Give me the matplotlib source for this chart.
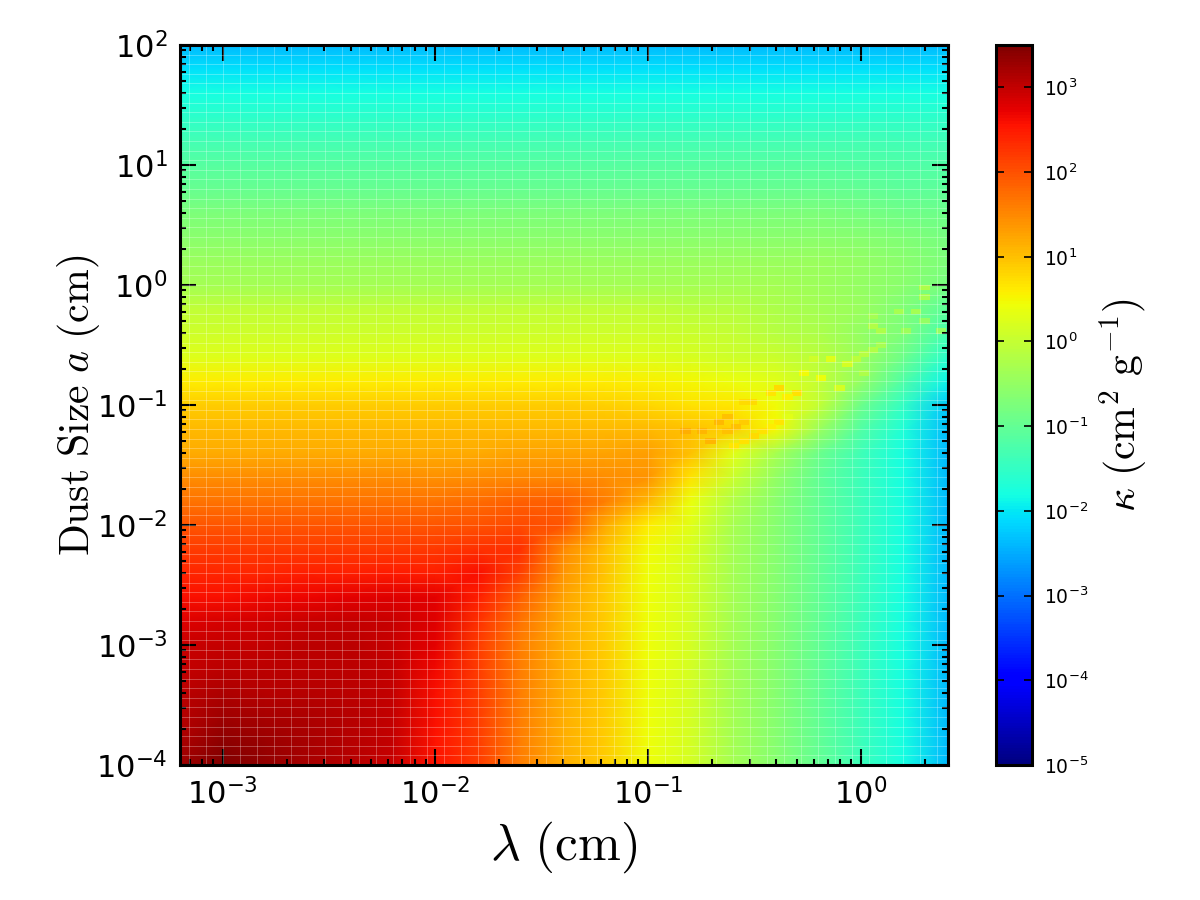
import matplotlib
matplotlib.use("Agg")
import matplotlib.pyplot as plt
import numpy as np
from matplotlib.colors import LogNorm
from matplotlib.ticker import LogLocator, NullLocator

plt.rcParams["mathtext.fontset"] = "cm"
plt.rcParams["axes.linewidth"] = 2.2
plt.rcParams["axes.unicode_minus"] = False

# log10(wavelength / cm) of each table column
log_lam = [-3.2, -3.0, -2.8, -2.6, -2.4, -2.2, -2.0, -1.8, -1.6, -1.4,
           -1.2, -1.0, -0.8, -0.6, -0.4, -0.2, 0.0, 0.2, 0.41]
# log10(dust size / cm) of each table row
log_size = [-4.0, -3.8, -3.6, -3.4, -3.2, -3.0, -2.8, -2.6, -2.4, -2.2, -2.0,
            -1.8, -1.6, -1.4, -1.2, -1.0, -0.8, -0.6, -0.4, -0.2, 0.0,
            0.2, 0.4, 0.6, 0.8, 1.0, 1.2, 1.4, 1.6, 1.8, 2.0]

# log10(kappa) along each dust size, small grains first
a_m40 = [3.25, 3.50, 3.35, 3.20, 3.10, 2.95, 2.55, 2.20, 1.60, 1.15, 0.90, 0.42, 0.15, -0.35, -0.65, -1.00, -1.40, -1.80, -2.40]
a_m38 = [3.15, 3.40, 3.30, 3.20, 3.10, 3.00, 2.55, 2.20, 1.60, 1.15, 0.90, 0.42, 0.15, -0.35, -0.65, -1.00, -1.40, -1.80, -2.40]
a_m36 = [3.10, 3.25, 3.20, 3.15, 3.10, 3.00, 2.60, 2.20, 1.60, 1.15, 0.90, 0.42, 0.15, -0.35, -0.65, -1.00, -1.40, -1.80, -2.40]
a_m34 = [3.05, 3.15, 3.10, 3.10, 3.05, 3.00, 2.60, 2.20, 1.60, 1.15, 0.90, 0.42, 0.15, -0.35, -0.65, -1.00, -1.40, -1.80, -2.40]
a_m32 = [3.00, 3.05, 3.05, 3.05, 3.05, 3.00, 2.65, 2.20, 1.60, 1.15, 0.90, 0.42, 0.15, -0.35, -0.65, -1.00, -1.40, -1.80, -2.40]
a_m30 = [2.95, 3.00, 3.00, 3.05, 3.05, 2.95, 2.75, 2.20, 1.60, 1.15, 0.90, 0.42, 0.15, -0.35, -0.65, -1.00, -1.40, -1.80, -2.40]
a_m28 = [2.80, 2.85, 2.90, 2.95, 3.00, 2.95, 2.80, 2.30, 1.70, 1.20, 0.90, 0.42, 0.15, -0.35, -0.65, -1.00, -1.40, -1.80, -2.40]
a_m26 = [2.60, 2.60, 2.65, 2.70, 2.75, 2.80, 2.74, 2.45, 1.85, 1.25, 0.90, 0.42, 0.15, -0.35, -0.65, -1.00, -1.40, -1.80, -2.40]
a_m24 = [2.40, 2.40, 2.40, 2.45, 2.45, 2.50, 2.46, 2.60, 2.15, 1.40, 0.95, 0.42, 0.15, -0.35, -0.65, -1.00, -1.40, -1.80, -2.40]
a_m22 = [2.20, 2.20, 2.20, 2.20, 2.20, 2.20, 2.23, 2.30, 2.30, 1.50, 1.00, 0.45, 0.20, -0.35, -0.65, -1.00, -1.40, -1.80, -2.40]
a_m20 = [1.95, 1.95, 1.95, 1.95, 1.95, 1.95, 1.97, 2.00, 2.05, 1.95, 1.20, 0.60, 0.30, -0.30, -0.65, -1.00, -1.40, -1.80, -2.40]
a_m18 = [1.70, 1.70, 1.70, 1.70, 1.70, 1.70, 1.70, 1.75, 1.84, 1.84, 1.60, 1.10, 0.40, -0.20, -0.60, -1.00, -1.40, -1.80, -2.40]
a_m16 = [1.45, 1.45, 1.45, 1.45, 1.45, 1.45, 1.43, 1.45, 1.50, 1.50, 1.47, 1.40, 0.70, 0.05, -0.50, -1.00, -1.40, -1.80, -2.40]
a_m14 = [1.20, 1.20, 1.20, 1.20, 1.20, 1.20, 1.20, 1.20, 1.25, 1.25, 1.25, 1.30, 1.00, 0.30, -0.30, -0.90, -1.35, -1.80, -2.40]
a_m12 = [1.05, 1.05, 1.05, 1.05, 1.05, 1.05, 1.05, 1.05, 1.05, 1.05, 1.05, 1.05, 1.00, 0.85, 0.50, -0.40, -1.15, -1.70, -2.35]
a_m10 = [0.90, 0.90, 0.90, 0.90, 0.90, 0.90, 0.90, 0.90, 0.90, 0.90, 0.85, 0.80, 0.70, 0.65, 0.45, 0.00, -0.90, -1.50, -2.25]
a_m08 = [0.60, 0.60, 0.60, 0.60, 0.60, 0.60, 0.60, 0.60, 0.60, 0.60, 0.60, 0.55, 0.50, 0.40, 0.30, 0.00, -0.50, -1.20, -1.90]
a_m06 = [0.25, 0.25, 0.25, 0.25, 0.25, 0.25, 0.25, 0.25, 0.25, 0.25, 0.25, 0.25, 0.20, 0.10, 0.05, -0.10, -0.40, -0.90, -1.60]
a_m04 = [0.10, 0.10, 0.10, 0.10, 0.10, 0.10, 0.10, 0.10, 0.10, 0.10, 0.10, 0.10, 0.05, 0.00, -0.15, -0.25, -0.50, -0.75, -1.30]
a_m02 = [-0.05, -0.05, -0.05, -0.05, -0.05, -0.05, -0.05, -0.05, -0.05, -0.05, -0.05, -0.05, -0.10, -0.15, -0.25, -0.35, -0.45, -0.70, -1.10]
a_p00 = [-0.35, -0.35, -0.35, -0.35, -0.35, -0.35, -0.35, -0.35, -0.35, -0.35, -0.35, -0.35, -0.35, -0.35, -0.35, -0.40, -0.50, -0.60, -0.80]
a_p02 = [-0.45, -0.45, -0.45, -0.45, -0.45, -0.45, -0.45, -0.45, -0.45, -0.45, -0.45, -0.45, -0.45, -0.45, -0.45, -0.45, -0.50, -0.60, -0.75]
a_p04 = [-0.60, -0.60, -0.60, -0.60, -0.60, -0.60, -0.60, -0.60, -0.60, -0.60, -0.60, -0.60, -0.60, -0.60, -0.60, -0.60, -0.65, -0.70, -0.80]
a_p06 = [-0.75, -0.75, -0.75, -0.75, -0.75, -0.75, -0.75, -0.75, -0.75, -0.75, -0.75, -0.75, -0.75, -0.75, -0.75, -0.75, -0.80, -0.85, -0.90]
a_p08 = [-0.95, -0.95, -0.95, -0.95, -0.95, -0.95, -0.95, -0.95, -0.95, -0.95, -0.95, -0.95, -0.95, -0.95, -0.95, -0.95, -1.00, -1.05, -1.05]
a_p10 = [-1.12, -1.12, -1.12, -1.12, -1.12, -1.12, -1.12, -1.12, -1.12, -1.12, -1.12, -1.12, -1.12, -1.12, -1.12, -1.12, -1.15, -1.20, -1.20]
a_p12 = [-1.32, -1.32, -1.32, -1.32, -1.32, -1.32, -1.32, -1.32, -1.32, -1.32, -1.32, -1.32, -1.32, -1.32, -1.32, -1.32, -1.32, -1.35, -1.35]
a_p14 = [-1.55, -1.55, -1.55, -1.55, -1.55, -1.55, -1.55, -1.55, -1.55, -1.55, -1.55, -1.55, -1.55, -1.55, -1.55, -1.55, -1.55, -1.55, -1.55]
a_p16 = [-1.78, -1.78, -1.78, -1.78, -1.78, -1.78, -1.78, -1.78, -1.78, -1.78, -1.78, -1.78, -1.78, -1.78, -1.78, -1.78, -1.78, -1.78, -1.78]
a_p18 = [-2.05, -2.05, -2.05, -2.05, -2.05, -2.05, -2.05, -2.05, -2.05, -2.05, -2.05, -2.05, -2.05, -2.05, -2.05, -2.05, -2.05, -2.05, -2.05]
a_p20 = [-2.40, -2.40, -2.40, -2.40, -2.40, -2.40, -2.40, -2.40, -2.40, -2.40, -2.40, -2.40, -2.40, -2.40, -2.40, -2.40, -2.40, -2.40, -2.40]

# resonance cells that stand out from their neighbours near a ~ lambda / 2 pi
fleck_log_lam = [0.299, 0.299, 0.260, 0.180, 0.056, 0.056, 0.095, 0.213, 0.378, 0.299,
                 0.095, 0.056, -0.023, 0.016, -0.141, -0.219, -0.062, -0.266, -0.188, 0.016,
                 -0.100, -0.384, -0.301, -0.423, -0.345, -0.510, -0.549, -0.345, -0.384, -0.549,
                 -0.423, -0.462, -0.502, -0.588, -0.627, -0.667, -0.627, -0.706, -0.745, -0.824,
                 -0.549, -0.596]
fleck_log_size = [-0.020, -0.098, -0.220, -0.220, -0.259, -0.339, -0.381, -0.381, -0.381, -0.300,
                  -0.500, -0.542, -0.617, -0.578, -0.617, -0.617, -0.659, -0.736, -0.778, -0.736,
                  -0.856, -0.856, -0.898, -0.898, -0.936, -0.978, -0.978, -1.098, -1.139, -1.139,
                  -1.181, -1.217, -1.256, -1.181, -1.098, -1.139, -1.217, -1.300, -1.217, -1.217,
                  -1.300, -1.342]
fleck_log_kappa = [-0.25, -0.30, -0.35, -0.30, -0.35, -0.20, -0.25, -0.40, -0.50, -0.50,
                   -0.30, -0.20, -0.10, -0.15, 0.25, 0.10, 0.15, 0.45, 0.40, -0.25,
                   0.15, 0.75, 0.70, 0.65, 0.55, 0.75, 0.75, 0.30, 0.65, 0.90,
                   0.60, 0.70, 0.75, 1.00, 1.00, 1.05, 1.00, 1.10, 1.10, 1.15,
                   0.70, 0.65]

log_kappa = np.array([
    a_m40, a_m38, a_m36, a_m34, a_m32, a_m30, a_m28, a_m26, a_m24, a_m22, a_m20,
    a_m18, a_m16, a_m14, a_m12, a_m10, a_m08, a_m06, a_m04, a_m02, a_p00,
    a_p02, a_p04, a_p06, a_p08, a_p10, a_p12, a_p14, a_p16, a_p18, a_p20,
])

lam = 10.0 ** np.array(log_lam)
size = 10.0 ** np.array(log_size)

fig = plt.figure(figsize=(12, 9), dpi=100)
ax = fig.add_axes([0.15, 0.15, 0.64, 0.80])
cax = fig.add_axes([0.83, 0.15, 0.03, 0.80])

norm = LogNorm(vmin=1e-5, vmax=10 ** 3.5)
mesh = ax.pcolormesh(lam, size, 10.0 ** log_kappa, cmap="jet", norm=norm,
                     shading="gouraud", rasterized=True)
ax.set_xscale("log")
ax.set_yscale("log")
ax.set_xlim(lam[0], lam[-1])
ax.set_ylim(size[0], size[-1])

cell = [(-1, -0.56), (1, -0.56), (1, 0.56), (-1, 0.56)]
ax.scatter(10.0 ** np.array(fleck_log_lam), 10.0 ** np.array(fleck_log_size),
           c=10.0 ** np.array(fleck_log_kappa), cmap="jet", norm=norm,
           marker=cell, s=55, linewidths=0, zorder=1.5)

# thin pale seams between the cells of the underlying opacity grid
for x in 10.0 ** np.arange(-3.16, 0.41, 0.08):
    ax.axvline(x, color="white", lw=0.7, alpha=0.28, zorder=2)
for y in 10.0 ** np.arange(-3.92, 2.0, 0.08):
    ax.axhline(y, color="white", lw=0.7, alpha=0.28, zorder=2)

ax.tick_params(which="major", direction="in", top=True, right=True,
               length=11.5, width=1.5, labelsize=22, pad=9, zorder=5)
ax.tick_params(which="minor", direction="in", top=True, right=True,
               length=4.5, width=1.5)
ax.xaxis.set_major_locator(LogLocator(base=10, numticks=12))
ax.yaxis.set_major_locator(LogLocator(base=10, numticks=12))
ax.xaxis.set_minor_locator(LogLocator(base=10, subs=np.arange(2, 10), numticks=12))
ax.yaxis.set_minor_locator(LogLocator(base=10, subs=np.arange(2, 10), numticks=12))

ax.set_xlabel(r"$\lambda\ (\mathrm{cm})$", fontsize=37, labelpad=7)
ax.set_ylabel(r"$\mathrm{Dust\ Size}\ a\ (\mathrm{cm})$", fontsize=30, labelpad=-4)

cbar = fig.colorbar(mesh, cax=cax)
cbar.ax.yaxis.set_major_locator(LogLocator(base=10, numticks=12))
cbar.ax.yaxis.set_minor_locator(NullLocator())
cbar.ax.tick_params(which="major", direction="in", length=6, width=1.2,
                    left=True, right=True, labelsize=13.5, pad=9)
cbar.outline.set_linewidth(2.2)
cbar.set_label(r"$\kappa\ (\mathrm{cm^2\ g^{-1}})$", fontsize=30, labelpad=6)

fig.savefig("out.png", dpi=100)
